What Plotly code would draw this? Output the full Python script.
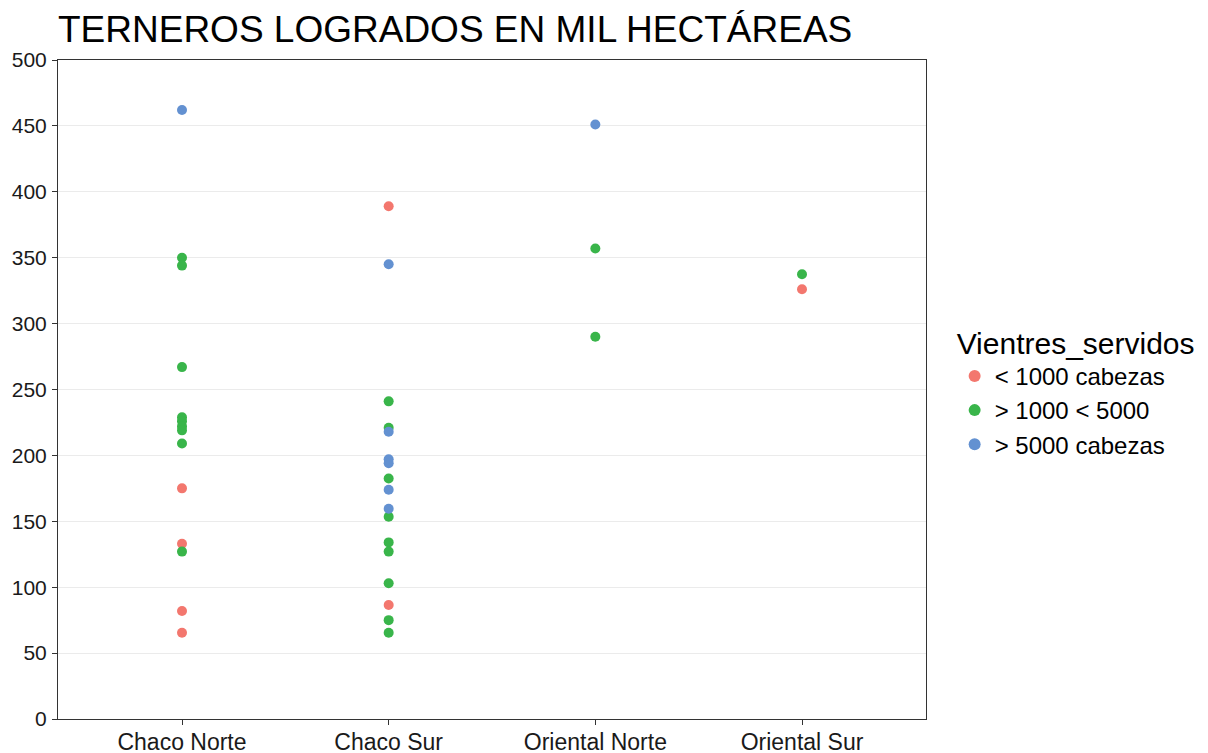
import plotly.graph_objects as go

categories = ["Chaco Norte", "Chaco Sur", "Oriental Norte", "Oriental Sur"]
groups = ["< 1000 cabezas", "> 1000 < 5000", "> 5000 cabezas"]
colors = ["#F3776E", "#39B54A", "#6391D1"]

# region and value of every point, per group
menos_1000_region = ["Chaco Norte"] * 4 + ["Chaco Sur"] * 2 + ["Oriental Sur"]
menos_1000_valor = [175, 133, 82, 65.5, 389, 86.5, 326]

entre_region = (["Chaco Norte"] * 9 + ["Chaco Sur"] * 9
                + ["Oriental Norte"] * 2 + ["Oriental Sur"])
entre_valor = [350, 344, 267, 229, 226, 222, 219, 209, 127,
               241, 221, 182.5, 153.5, 134, 127, 103, 75, 65.5,
               357, 290, 337.5]

mas_5000_region = ["Chaco Norte"] + ["Chaco Sur"] * 6 + ["Oriental Norte"]
mas_5000_valor = [462, 345, 218, 197, 194, 174, 159.5, 451]

series = [
    (menos_1000_region, menos_1000_valor),
    (entre_region, entre_valor),
    (mas_5000_region, mas_5000_valor),
]

fig = go.Figure()
for name, color, (reg, val) in zip(groups, colors, series):
    fig.add_trace(go.Scatter(
        x=reg, y=val, mode="markers", name=name,
        marker=dict(size=10, color=color),
    ))

# the page body adds 8px, margins are set so the panel lands at 58..926 x 60..719
fig.update_layout(
    width=1208, height=753,
    paper_bgcolor="white", plot_bgcolor="white",
    margin=dict(l=50, r=290, t=52, b=42),
    font=dict(family="Liberation Sans, Arial", color="#1a1a1a"),
    title=dict(text="TERNEROS LOGRADOS EN MIL HECTÁREAS",
               x=50 / 1208, xanchor="left", y=1 - 21 / 753, yanchor="middle",
               font=dict(size=37, color="black")),
    legend=dict(title=dict(text="Vientres_servidos", font=dict(size=30, color="black")),
                font=dict(size=24, color="black"),
                x=1.033, xanchor="left", y=0.498, yanchor="middle",
                itemsizing="constant", tracegroupgap=0),
    showlegend=True,
)
fig.update_xaxes(
    categoryorder="array", categoryarray=categories,
    range=[-0.6, 3.6], showgrid=False, zeroline=False, automargin=False,
    showline=True, linecolor="#333", linewidth=1, mirror=True,
    ticks="outside", ticklen=5, tickcolor="#333", ticklabelstandoff=-3,
    tickfont=dict(size=23, color="#1a1a1a"),
)
fig.update_yaxes(
    range=[0, 500], dtick=50, showgrid=True, gridcolor="#EBEBEB", gridwidth=1,
    zeroline=False, automargin=False,
    showline=True, linecolor="#333", linewidth=1, mirror=True,
    ticks="outside", ticklen=5, tickcolor="#333", ticklabelstandoff=1,
    tickfont=dict(size=21, color="#1a1a1a"),
)

fig.write_html("out.html")
